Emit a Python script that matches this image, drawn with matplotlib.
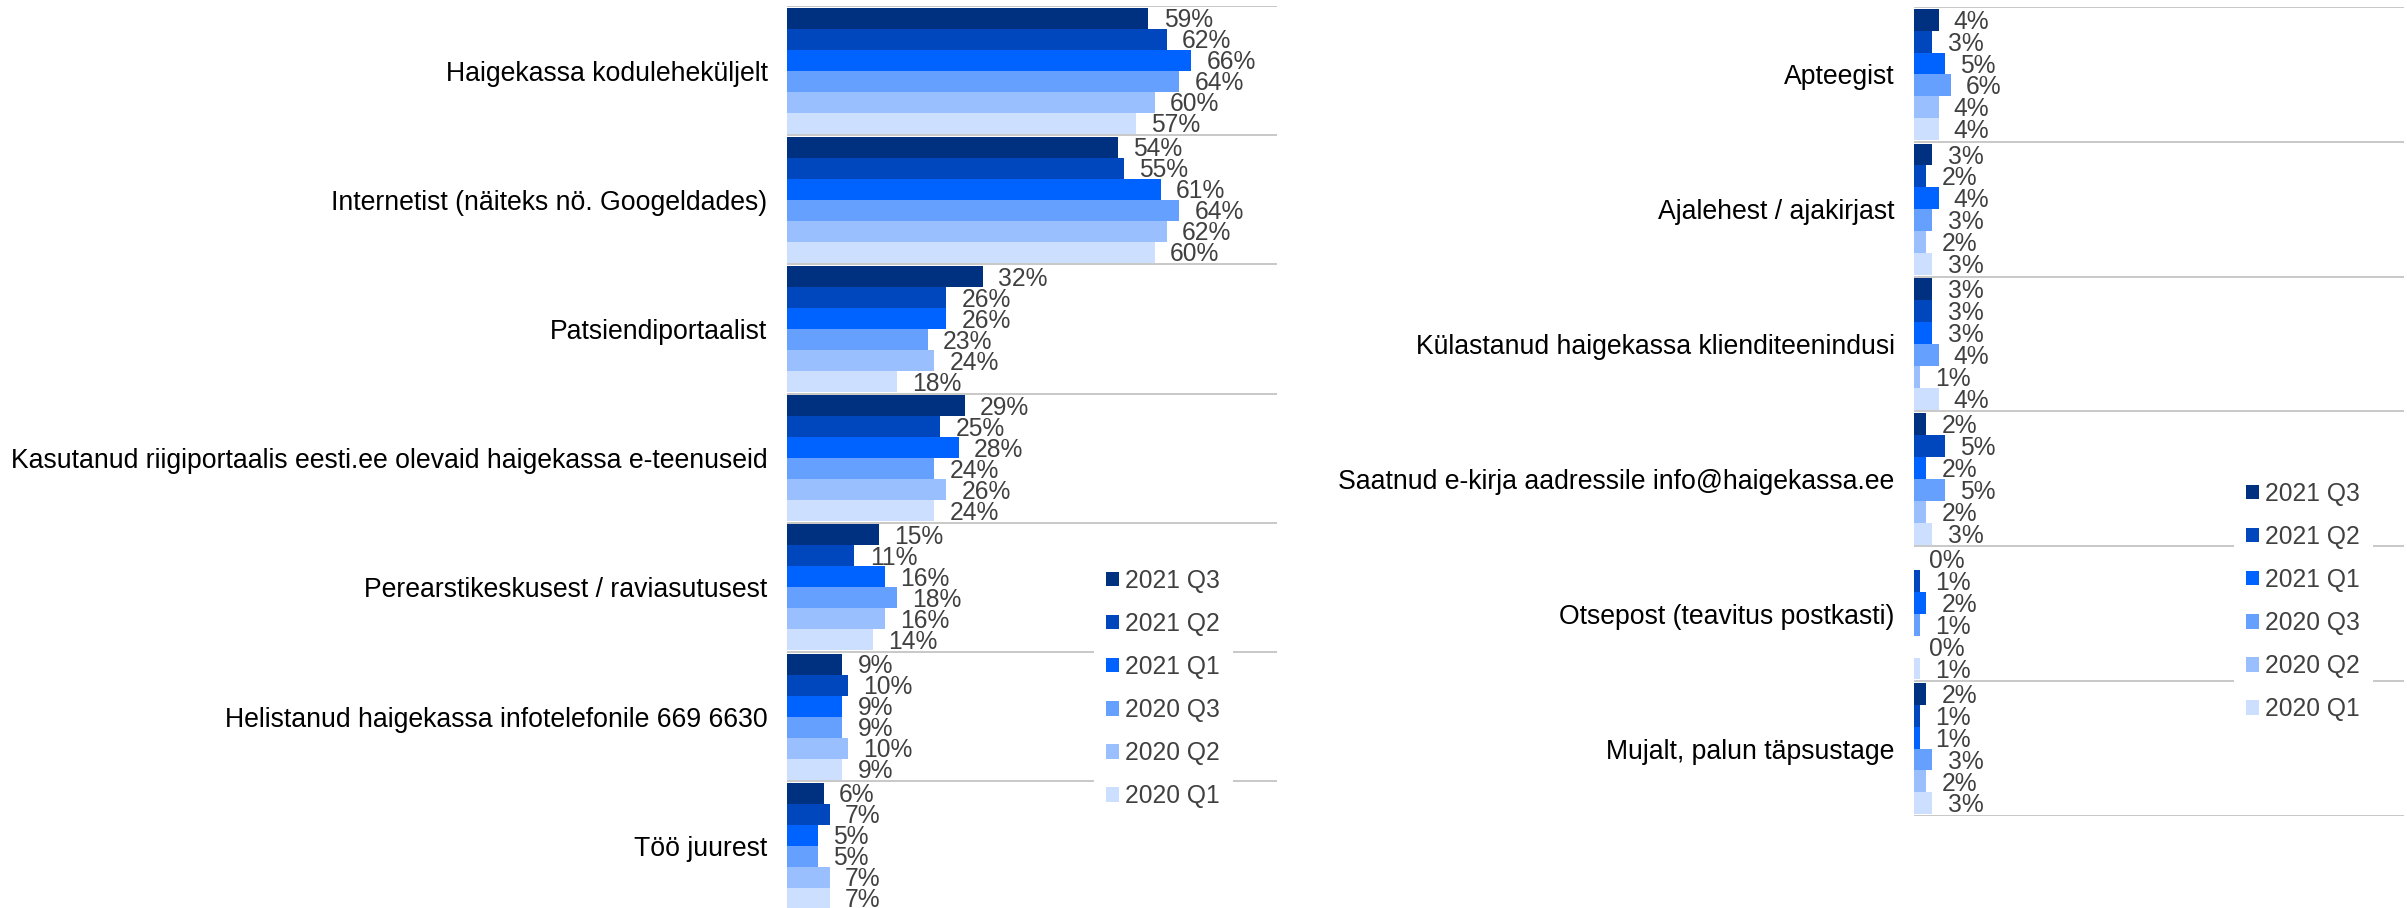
import matplotlib
matplotlib.use("Agg")
import matplotlib.pyplot as plt
from matplotlib.patches import Patch

plt.rcParams['font.family'] = ['Liberation Sans', 'DejaVu Sans']

series = ["2021 Q3", "2021 Q2", "2021 Q1", "2020 Q3", "2020 Q2", "2020 Q1"]
colors = ["#003180", "#0047BE", "#0062FF", "#65A0FF", "#99BFFF", "#CCDFFF"]

left_categories = [
    "Haigekassa koduleheküljelt",
    "Internetist (näiteks nö. Googeldades)",
    "Patsiendiportaalist",
    "Kasutanud riigiportaalis eesti.ee olevaid haigekassa e-teenuseid",
    "Perearstikeskusest / raviasutusest",
    "Helistanud haigekassa infotelefonile 669 6630",
    "Töö juurest",
]
left_2021_q3 = [59, 54, 32, 29, 15, 9, 6]
left_2021_q2 = [62, 55, 26, 25, 11, 10, 7]
left_2021_q1 = [66, 61, 26, 28, 16, 9, 5]
left_2020_q3 = [64, 64, 23, 24, 18, 9, 5]
left_2020_q2 = [60, 62, 24, 26, 16, 10, 7]
left_2020_q1 = [57, 60, 18, 24, 14, 9, 7]

right_categories = [
    "Apteegist",
    "Ajalehest / ajakirjast",
    "Külastanud haigekassa klienditeenindusi",
    "Saatnud e-kirja aadressile info@haigekassa.ee",
    "Otsepost (teavitus postkasti)",
    "Mujalt, palun täpsustage",
]
right_2021_q3 = [4, 3, 3, 2, 0, 2]
right_2021_q2 = [3, 2, 3, 5, 1, 1]
right_2021_q1 = [5, 4, 3, 2, 2, 1]
right_2020_q3 = [6, 3, 4, 5, 1, 3]
right_2020_q2 = [4, 2, 1, 2, 0, 2]
right_2020_q1 = [4, 3, 4, 3, 1, 3]

W, H = 2407, 908
fig = plt.figure(figsize=(W / 100, H / 100), dpi=100)

GRID = "#C8C8C8"
VAL_COLOR = "#404040"
BAR_H = 0.1625
VAL_FS = 17.7
CAT_FS = 19.2
LEG_FS = 17.7


def draw(ax, cats, data):
    n = len(cats)
    for j, vals in enumerate(data):
        ys = [i + 0.5 + (j - 2.5) * BAR_H for i in range(n)]
        ax.barh(ys, vals, height=BAR_H, color=colors[j], label=series[j], zorder=2)
        for y, v in zip(ys, vals):
            ax.annotate(f"{v}%", xy=(v, y), xytext=(11, -1.5), textcoords="offset points",
                        ha="left", va="center", fontsize=VAL_FS, color=VAL_COLOR, zorder=3)
    for k in range(n + 1):
        ax.axhline(k, color=GRID, lw=1.4, zorder=1)
    ax.set_xlim(0, 80)
    ax.set_ylim(n, 0)
    ax.set_yticks([i + 0.5 for i in range(n)])
    ax.set_yticklabels(cats, fontsize=CAT_FS, color="#000000")
    ax.tick_params(axis="y", length=0, pad=14)
    ax.set_xticks([])
    for s in ax.spines.values():
        s.set_visible(False)


def px_box(x0, y0, x1, y1):
    return [x0 / W, 1 - y1 / H, (x1 - x0) / W, (y1 - y0) / H]


axL = fig.add_axes(px_box(787, 6, 1277, 910.4))
draw(axL, left_categories, [left_2021_q3, left_2021_q2, left_2021_q1,
                            left_2020_q3, left_2020_q2, left_2020_q1])

axR = fig.add_axes(px_box(1914, 7, 2404, 816))
draw(axR, right_categories, [right_2021_q3, right_2021_q2, right_2021_q1,
                             right_2020_q3, right_2020_q2, right_2020_q1])

handles = [Patch(facecolor=c, edgecolor="none", label=s) for c, s in zip(colors, series)]


def add_legend(x_left_px, y_center_px):
    leg = fig.legend(handles=handles, loc="center left",
                     bbox_to_anchor=(x_left_px / W, 1 - y_center_px / H),
                     frameon=True, facecolor="white", edgecolor="none", framealpha=1,
                     fontsize=LEG_FS, handlelength=0.53, handleheight=0.53,
                     handletextpad=0.25, labelspacing=0.78, borderpad=0.5,
                     borderaxespad=0)
    for t in leg.get_texts():
        t.set_color(VAL_COLOR)
    leg.set_zorder(10)
    return leg


add_legend(1094, 688.5)
add_legend(2234, 601.5)

fig.savefig("out.png", dpi=100)
